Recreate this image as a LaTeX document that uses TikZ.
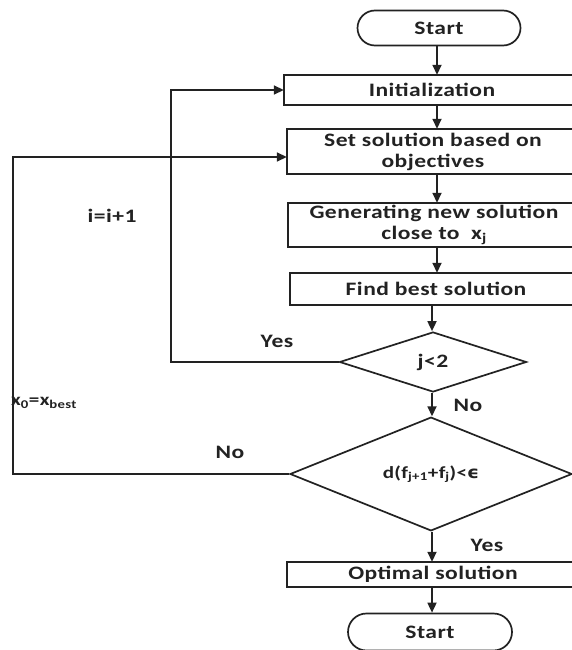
\documentclass[tikz,border=0pt]{standalone}
\usepackage{fontspec}
\setmainfont[FakeStretch=1.24,LetterSpace=2.5]{Carlito}
\newfontfamily\symfont[FakeStretch=1.1]{DejaVu Sans}
\usetikzlibrary{shapes.geometric,shapes.misc,arrows.meta}
\definecolor{ink}{HTML}{222222}
\tikzset{
  txt/.style={text=ink, inner sep=0pt,
    font=\fontsize{19}{21}\selectfont\bfseries, align=center},
  base/.style={txt, draw=ink, line width=1.7pt},
  term/.style={base, rounded rectangle},
  procbox/.style={txt, rectangle, minimum width=292pt},
  frame/.style={draw=ink, line width=1.7pt},
  decision/.style={base, diamond},
  arr/.style={draw=ink, line width=1.7pt, -{Triangle[length=10pt,width=9pt]}},
  lbl/.style={txt},
}
\begin{document}
\begin{tikzpicture}[x=1pt,y=-1pt]
\useasboundingbox (0,0) rectangle (572,650);
\clip (0,0) rectangle (572,650);
\fill[white] (0,0) rectangle (572,650);

% main column
\node[term, minimum width=163pt, minimum height=35pt] (start) at (439,28) {Start};
\node[procbox, minimum width=296pt, minimum height=30pt] (init) at (432,90) {Initialization};
\node[procbox, minimum height=45pt] (set) at (433,151.5) {Set solution based on\\objectives};
\node[procbox, minimum height=44pt] (gen) at (434,225) {Generating new solution\\close to\ \ x\textsubscript{j}};
\node[procbox, minimum height=32pt] (find) at (436,289) {Find best solution};
\node[decision, minimum width=187pt, minimum height=60pt] (d1) at (433,362) {j<2};
\node[decision, minimum width=282pt, minimum height=112pt, font=\fontsize{17}{19}\selectfont\bfseries] (d2) at (431,474)
  {d(f\textsubscript{j+1}+f\textsubscript{j})<{\symfont ϵ}};
\node[procbox, minimum height=25pt] (opt) at (433,574.5) {Optimal solution};
\node[term, minimum width=164pt, minimum height=37pt] (stop) at (430,632) {Start};

% process frames run past the right edge of the sheet
\foreach \b in {init,set,gen,find,opt}
  \draw[frame] (\b.south west) rectangle ([xshift=40pt]\b.north east);

% arrow columns and loop corners
\coordinate (colA) at (437,0);
\coordinate (colB) at (432,0);
\coordinate (yesturn) at (171,90);
\coordinate (noturn) at (13,157);

\draw[arr] (start.south -| colA) -- (init.north -| colA);
\draw[arr] (init.south -| colA) -- (set.north -| colA);
\draw[arr] (set.south -| colA) -- (gen.north -| colA);
\draw[arr] (gen.south -| colA) -- (find.north -| colA);
\draw[arr] (find.south -| colB) -- (d1.north -| colB);
\draw[arr] (d1.south -| colB) -- (d2.north -| colB);
\draw[arr] (d2.south -| colB) -- (opt.north -| colB);
\draw[arr] (opt.south -| colB) -- (stop.north -| colB);

% loops back
\draw[arr] (d1.west) -| (yesturn) -- (init.west);
\draw[arr] (d2.west) -| (noturn) -- (noturn -| set.west);

% labels
\node[lbl] (inc) at (112,216) {i=i+1};
\node[lbl] (yes1) at (277,341) {Yes};
\node[lbl, anchor=west, font=\fontsize{17}{19}\selectfont\bfseries] (reset) at (11,403) {x\textsubscript{0}=x\textsubscript{best}};
\node[lbl] (no2) at (230,452) {No};
\node[lbl] (no1) at (468,405) {No};
\node[lbl] (yes2) at (487,545) {Yes};
\end{tikzpicture}
\end{document}
